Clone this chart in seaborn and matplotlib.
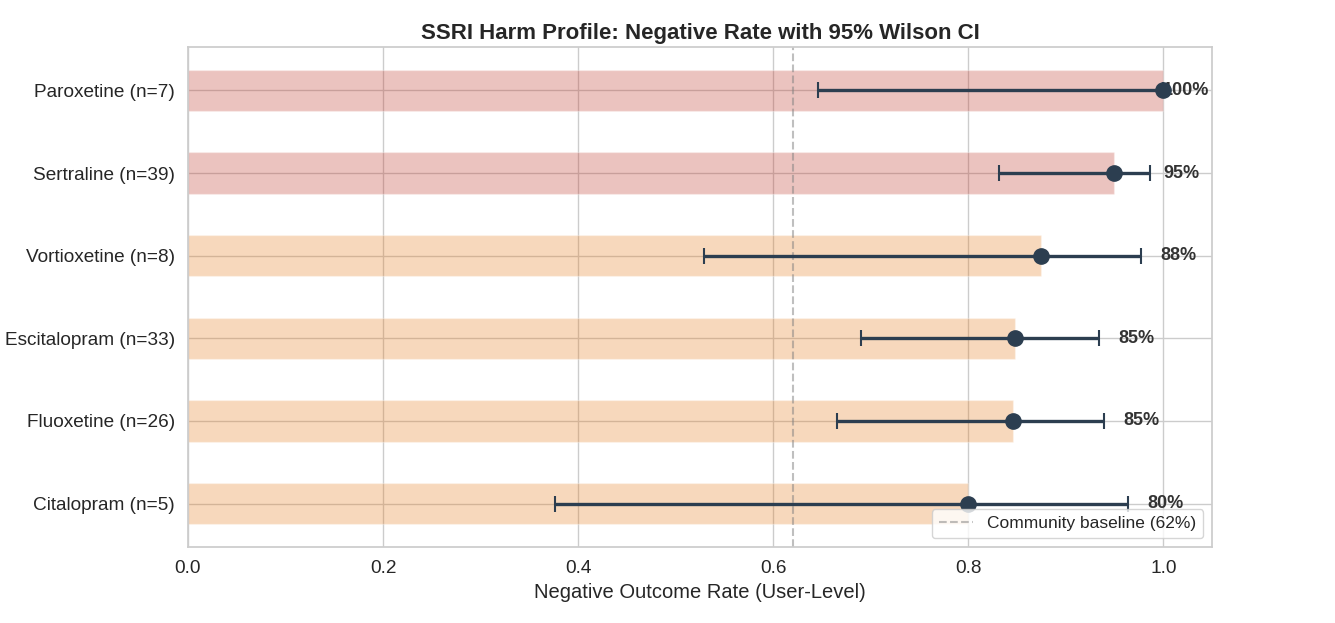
import numpy as np
import pandas as pd
import matplotlib
matplotlib.use("Agg")
import matplotlib.pyplot as plt
import seaborn as sns

# SSRI harm profile
drugs = ["Paroxetine", "Sertraline", "Vortioxetine", "Escitalopram", "Fluoxetine", "Citalopram"]
n_users = [7, 39, 8, 33, 26, 5]
neg_rate = [1.0, 0.949, 0.875, 0.848, 0.846, 0.80]
ci_low = [0.646, 0.832, 0.529, 0.690, 0.665, 0.376]
ci_high = [1.0, 0.986, 0.977, 0.934, 0.939, 0.964]
baseline = 0.62

sns.set_theme(style="whitegrid")
plt.rcParams["font.family"] = ["Liberation Sans", "DejaVu Sans"]

df = pd.DataFrame({
    "label": [f"{d} (n={n})" for d, n in zip(drugs, n_users)],
    "rate": neg_rate,
    "lo": ci_low,
    "hi": ci_high,
})
bar_colors = ["#c0392b" if r >= 0.9 else "#e67e22" for r in df["rate"]]

fig, ax = plt.subplots(figsize=(13.35, 6.23), dpi=100)
fig.subplots_adjust(left=0.1408, right=0.9079, top=0.9246, bottom=0.122)

sns.barplot(data=df, x="rate", y="label", hue="label", palette=bar_colors,
            legend=False, alpha=0.3, width=0.5, saturation=1, ax=ax)

ypos = np.arange(len(df))
xerr = [df["rate"] - df["lo"], df["hi"] - df["rate"]]
ax.errorbar(df["rate"], ypos, xerr=xerr, fmt="o", color="#2c3e50",
            markersize=11, linewidth=2.4, capsize=6, capthick=1.5, zorder=3)

ax.axvline(baseline, color="gray", linestyle="--", alpha=0.5, linewidth=1.5,
           label=f"Community baseline ({baseline:.0%})")

for y, (r, hi) in enumerate(zip(df["rate"], df["hi"])):
    ax.text(min(hi + 0.02, 1.0), y, f"{r:.0%}", va="center", ha="left",
            fontsize=13, fontweight="bold", color="#333333")

ax.yaxis.grid(True)
ax.set_axisbelow(True)
ax.set_xlim(0, 1.05)
ax.set_ylim(len(df) - 0.475, -0.525)
ax.set_xlabel("Negative Outcome Rate (User-Level)", fontsize=14.5)
ax.set_ylabel("")
ax.tick_params(axis="both", labelsize=13.7)
ax.set_title("SSRI Harm Profile: Negative Rate with 95% Wilson CI",
             fontsize=16, fontweight="bold")
ax.legend(loc="lower right", fontsize=12.5)

fig.savefig("out.png", dpi=100)
